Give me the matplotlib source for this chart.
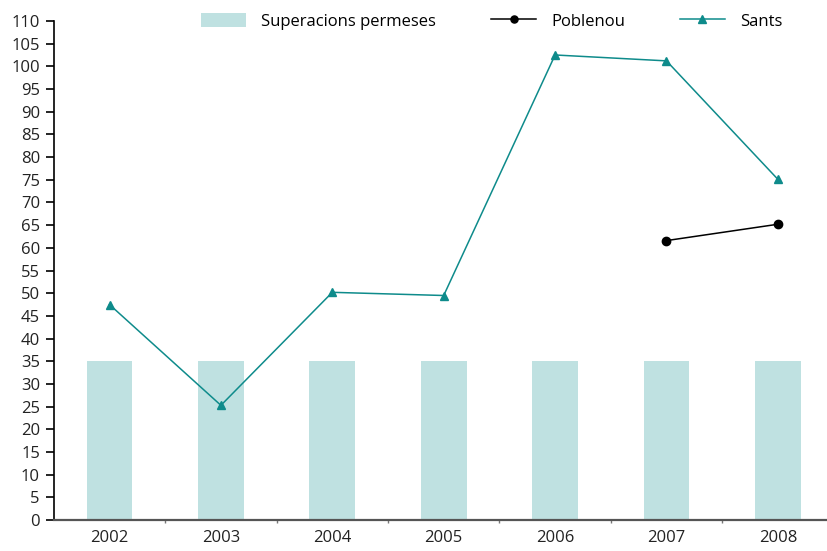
import matplotlib
matplotlib.use("Agg")
import matplotlib.pyplot as plt
import numpy as np

plt.rcParams['font.family'] = ['Open Sans', 'DejaVu Sans']

# data
years = ['2002', '2003', '2004', '2005', '2006', '2007', '2008']
permeses = [35, 35, 35, 35, 35, 35, 35]
sants = [47.5, 25.3, 50.2, 49.5, 102.5, 101.2, 75.1]
poblenou = [np.nan, np.nan, np.nan, np.nan, np.nan, 61.6, 65.2]

teal = '#0E8B8B'
bar_col = '#BFE1E1'

fig = plt.figure(figsize=(8.28, 5.51), dpi=100)
ax = fig.add_axes([0.065, 0.056, 0.935, 0.906])

x = np.arange(len(years))
b = ax.bar(x, permeses, width=0.41, color=bar_col, label='Superacions permeses', zorder=1)
lp, = ax.plot(x, poblenou, color='black', marker='o', markersize=6, linewidth=1.1,
              label='Poblenou', zorder=3)
ls, = ax.plot(x, sants, color=teal, marker='^', markersize=6, linewidth=1.1,
              label='Sants', zorder=3)

ax.set_xlim(-0.5, 6.45)
ax.set_ylim(0, 110)
ax.set_yticks(np.arange(0, 111, 5))
ax.set_xticks(x)
ax.set_xticklabels(years)
ax.set_xticks(np.arange(0.5, 6, 1), minor=True)

for s in ['top', 'right']:
    ax.spines[s].set_visible(False)
ax.spines['left'].set_color('black')
ax.spines['left'].set_linewidth(1.2)
ax.spines['bottom'].set_color('#555555')
ax.spines['bottom'].set_linewidth(1.6)

ax.tick_params(axis='y', length=6, width=1.2, labelsize=12, colors='black', pad=4)
ax.tick_params(axis='y', labelcolor='#222222')
ax.tick_params(axis='x', which='major', length=0, labelsize=12, pad=7, labelcolor='#222222')
ax.tick_params(axis='x', which='minor', length=2, width=1, color='#777777')

fig.legend(handles=[b, lp, ls], loc='upper left', bbox_to_anchor=(0.235, 0.988), ncol=3,
           frameon=False, fontsize=12, handlelength=2.7, handleheight=0.85,
           handletextpad=0.9, columnspacing=3.3, borderaxespad=0, markerscale=0.85)

fig.savefig('out.png', dpi=100)
